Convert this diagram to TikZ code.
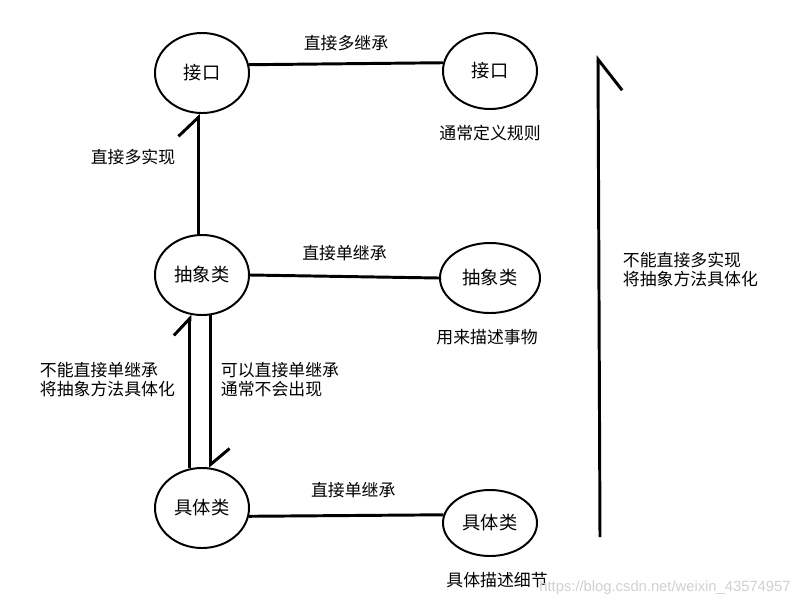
\documentclass[tikz,border=0pt]{standalone}
\usepackage{fontspec}
\newfontfamily\cjk{Noto Sans CJK SC}
\setsansfont{Liberation Sans}
\usetikzlibrary{shapes.geometric, arrows.meta}

\begin{document}
\begin{tikzpicture}[x=0.025cm, y=-0.025cm,
    cls/.style={draw, ellipse, line width=1.4pt, inner sep=0pt,
        font=\cjk\fontsize{13}{15}\selectfont},
    link/.style={line width=2.1pt},
    note/.style={font=\cjk\fontsize{12}{13.5}\selectfont, align=left}]
    \fill[white] (0, 0) rectangle (811, 608);

    % Classes on the left
    \node[cls, minimum width=2.35cm, minimum height=2cm] (intL) at (202, 73) {接口};
    \node[cls, minimum width=2.35cm, minimum height=2cm] (absL) at (202, 275) {抽象类};
    \node[cls, minimum width=2.35cm, minimum height=2cm] (conL) at (202, 508) {具体类};

    % Classes on the right
    \node[cls, minimum width=2.35cm, minimum height=1.9cm] (intR) at (490, 71) {接口};
    \node[cls, minimum width=2.5cm, minimum height=1.75cm] (absR) at (490, 278) {抽象类};
    \node[cls, minimum width=2.35cm, minimum height=1.65cm] (conR) at (490, 523) {具体类};

    % Inheritance
    \draw[link] (intL.10) -- node[note, above=4.5pt] {直接多继承} (intR.170);
    \draw[link] (absL.east) -- node[note, above=7pt] {直接单继承} (absR.west);
    \draw[link] (conL.-10) -- node[note, above=8.5pt, xshift=5pt] {直接单继承} (conR.170);

    % Implementation
    \draw[link, -{Straight Barb[left, length=0.475cm, width=1cm]}] (absL.95) -- (intL.-95);
    \draw[link, -{Straight Barb[left, length=0.425cm, width=0.8cm]}] (conL.107) -- (absL.-107);
    \draw[link, -{Straight Barb[left, length=0.4cm, width=0.95cm]}] (absL.-78) -- (conL.78);
    \coordinate (vTop) at (598, 55);
    \coordinate (vBot) at (600, 537);
    \draw[link, -{Straight Barb[right, length=0.775cm, width=1.2cm]}] (vBot) -- (vTop);

    % Notes
    \node[note] (intNote) at (490, 133) {通常定义规则};
    \node[note] (absNote) at (487, 337) {用来描述事物};
    \node[note] (conNote) at (497, 580) {具体描述细节};
    \node[note] (multiImpl) at (133, 157) {直接多实现};
    \node[note, anchor=west] (noSingle) at (35, 380) {不能直接单继承\\将抽象方法具体化};
    \node[note, anchor=west] (canSingle) at (216, 380) {可以直接单继承\\通常不会出现};
    \node[note, anchor=west] (noMulti) at (618, 270) {不能直接多实现\\将抽象方法具体化};

    % Watermark
    \node[font=\sffamily\fontsize{10.5}{12}\selectfont, text=black!18] (mark) at (665, 588)
        {https://blog.csdn.net/weixin\_43574957};
\end{tikzpicture}
\end{document}
